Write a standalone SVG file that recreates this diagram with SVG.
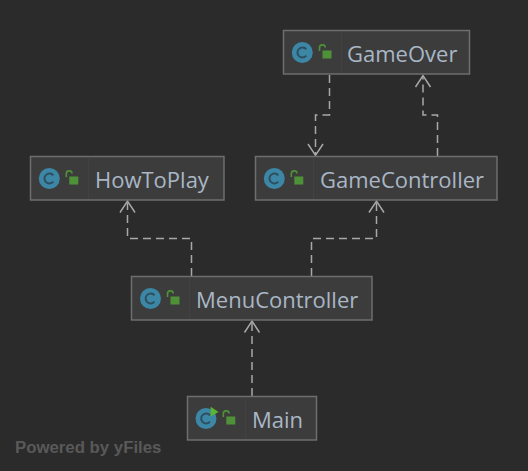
<svg xmlns="http://www.w3.org/2000/svg" width="528" height="471" viewBox="0 0 528 471">
<style>
.box{fill:#3c3c3c;stroke:#6e6e6e;stroke-width:1.5}
.div{stroke:#424242;stroke-width:1;fill:none}
.ic{fill:#3b87a5}
.cg{fill:none;stroke:#2f4f60;stroke-width:2}
.lb{fill:#4f9138}
.ls{fill:none;stroke:#4f9138;stroke-width:1.6}
.t{font-family:"Open Sans","Noto Sans",sans-serif;font-size:22px;fill:#a9b7c6}
.e{fill:none;stroke:#a8a8a8;stroke-width:1.5;stroke-dasharray:8 5}
.a{fill:none;stroke:#a8a8a8;stroke-width:1.5}
</style>
<defs>
<g id="icon"><circle cx="0" cy="0" r="10.500" class="ic"/><path class="cg" d="M4 -3.200A5 5 0 1 0 4 3.200"/></g>
<g id="lock"><rect x="0" y="0" width="9" height="8" class="lb"/><path class="ls" d="M-3 0.500V-2.500A2.900 2.900 0 0 1 2.800 -3"/></g>
</defs>
<rect width="528" height="471" fill="#2b2b2b"/>
<g id="connectors">
<path class="e" d="M329.500 75V115H315.500V154"/><path class="a" d="M308 144L315.500 155.500L323 144"/>
<path class="e" d="M437.500 156V115H423V77"/><path class="a" d="M415.500 87L423 75.500L430.500 87"/>
<path class="e" d="M191.500 276V238.500H127.500V203"/><path class="a" d="M120 212.500L127.500 201L135 212.500"/>
<path class="e" d="M311.500 276V238.500H376.500V203"/><path class="a" d="M369 212.500L376.500 201L384 212.500"/>
<path class="e" d="M252 396V323"/><path class="a" d="M244.500 332.500L252 321L259.500 332.500"/>
</g>
<g id="GameOver"><rect class="box" x="283.500" y="30.500" width="186" height="43.500"/><path class="div" d="M341.500 31.500V73"/><use href="#icon" x="302.300" y="52.500"/><use href="#lock" x="322.500" y="50.500"/><text class="t" x="347" y="61.500">GameOver</text></g>
<g id="GameController"><rect class="box" x="255.500" y="156.500" width="241.500" height="43.500"/><path class="div" d="M313.500 157.500V199"/><use href="#icon" x="274.300" y="178.500"/><use href="#lock" x="294.300" y="176.500"/><text class="t" x="320" y="187.500">GameController</text></g>
<g id="HowToPlay"><rect class="box" x="30.500" y="156.500" width="193.500" height="43.500"/><path class="div" d="M88.500 157.500V199"/><use href="#icon" x="49.300" y="178.500"/><use href="#lock" x="69.300" y="176.500"/><text class="t" x="95" y="187.500">HowToPlay</text></g>
<g id="MenuController"><rect class="box" x="131.500" y="276.500" width="240.500" height="43.500"/><path class="div" d="M189.500 277.500V319"/><use href="#icon" x="150.500" y="298.500"/><use href="#lock" x="170.500" y="296.500"/><text class="t" x="196" y="307.500">MenuController</text></g>
<g id="Main"><rect class="box" x="187.500" y="396.500" width="129" height="43.500"/><path class="div" d="M245.500 397.500V439"/><use href="#icon" x="206" y="418.500"/><path d="M210.700 406.700L218.500 412L210.700 416.500Z" fill="#5cb531"/><use href="#lock" x="226.300" y="416.500"/><text class="t" x="252" y="427.500">Main</text></g>
<text x="15" y="452.500" font-family="Liberation Sans,Arial,sans-serif" font-size="16.800" font-weight="700" fill="#595959">Powered by yFiles</text>
</svg>
